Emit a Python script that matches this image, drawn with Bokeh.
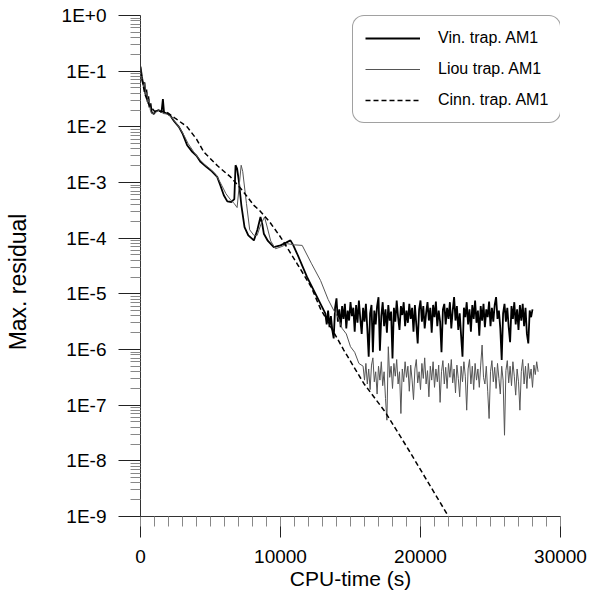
from bokeh.plotting import figure
from bokeh.models import Range1d, FixedTicker, CustomJSTickFormatter, Legend
from bokeh.embed import file_html
from bokeh.resources import INLINE

# ---------------- data ----------------
# Vin. trap. AM1 (thick black) - convergence part
vin_x = [0, 100, 200, 280, 350, 420, 500, 560, 640, 720, 800, 950, 1100, 1300, 1500, 1600,
         1680, 1900, 2140, 2400, 2740, 3000, 3330, 3700, 4000, 4290, 4700, 5100, 5480, 5700,
         5950, 6200, 6500, 6700, 6790, 6900, 7020, 7200, 7430, 7700, 8100, 8350, 8570, 8700,
         8810, 9100, 9520, 10000, 10400, 10710, 10900, 11190, 11900, 12500, 13100]
vin_log = [-0.92, -1.10, -1.25, -1.20, -1.42, -1.33, -1.55, -1.45, -1.65, -1.58, -1.74, -1.77,
           -1.72, -1.70, -1.74, -1.50, -1.74, -1.76, -1.80, -1.90, -2.00, -2.12, -2.33, -2.45,
           -2.52, -2.63, -2.72, -2.80, -2.90, -3.05, -3.23, -3.34, -3.35, -3.30, -2.69, -2.75,
           -2.96, -3.40, -3.80, -3.95, -4.04, -3.85, -3.62, -3.75, -3.92, -4.05, -4.16, -4.13,
           -4.08, -4.04, -4.12, -4.28, -4.70, -5.00, -5.30]
# Vin. plateau (noise), sampled every 100 s from 13200 s
vin_noise_start, vin_noise_step = 13200, 100
vin_noise_log = [
    -5.35, -5.55, -5.30, -5.60, -5.40, -5.65, -5.80, -5.25, -5.08, -5.50,
    -5.28, -5.60, -5.22, -5.45, -5.18, -5.62, -5.30, -5.48, -5.15, -5.40,
    -5.25, -5.68, -5.20, -5.52, -5.12, -5.45, -5.72, -5.25, -5.50, -5.18,
    -5.62, -6.13, -5.35, -5.20, -6.05, -5.30, -5.55, -5.22, -5.06, -6.02,
    -5.40, -5.15, -5.58, -5.28, -5.70, -5.20, -5.48, -5.32, -6.16, -5.25,
    -5.50, -5.12, -5.42, -5.65, -5.22, -5.38, -5.15, -5.58, -5.30, -5.52,
    -5.18, -5.45, -5.25, -5.68, -5.20, -5.55, -5.89, -5.28, -5.12, -5.50,
    -5.22, -5.62, -5.35, -5.15, -5.48, -5.25, -5.70, -5.20, -5.42, -5.14,
    -5.58, -5.30, -5.50, -6.05, -5.28, -5.18, -5.55, -5.25, -5.45, -5.15,
    -5.62, -5.30, -5.06, -5.48, -5.22, -5.65, -5.35, -5.75, -6.13, -5.25,
    -5.42, -5.15, -5.55, -5.28, -5.68, -5.20, -5.45, -5.12, -5.52, -5.30,
    -5.75, -5.22, -5.48, -5.18, -5.60, -5.28, -5.42, -5.14, -5.58, -5.25,
    -5.50, -5.20, -5.06, -5.45, -5.30, -5.62, -6.19, -5.35, -5.18, -5.50,
    -5.25, -5.60, -5.87, -5.22, -5.45, -5.15, -5.55, -5.28, -5.65, -5.20,
    -5.48, -5.18, -5.58, -5.25, -5.72, -5.89, -5.30, -5.42, -5.28]

# Liou trap. AM1 (thin grey)
liou_x = [0, 120, 220, 300, 380, 460, 540, 620, 700, 800, 1000, 1200, 1400, 1600, 1900, 2200,
          2500, 2800, 3100, 3400, 3800, 4200, 4600, 5000, 5400, 5800, 6100, 6400, 6700, 6900,
          7190, 7300, 7570, 7800, 8100, 8330, 8600, 8860, 9050, 9300, 9640, 10100, 10500,
          11000, 11550, 12200, 12860, 13400, 13810, 14100, 14400, 14700, 15000, 15300, 15600]
liou_log = [-0.95, -1.15, -1.30, -1.22, -1.45, -1.38, -1.58, -1.50, -1.70, -1.76, -1.75, -1.72,
            -1.70, -1.76, -1.77, -1.82, -1.92, -2.02, -2.15, -2.30, -2.45, -2.58, -2.68, -2.76,
            -2.86, -3.05, -3.20, -3.30, -3.38, -3.45, -2.69, -2.80, -3.38, -3.85, -3.95, -3.95,
            -3.75, -3.62, -3.80, -4.05, -4.19, -4.15, -4.10, -4.12, -4.13, -4.45, -4.76, -5.10,
            -5.30, -5.42, -5.62, -5.72, -5.95, -6.05, -6.25]
# Liou plateau (noise), sampled every 100 s from 15900 s
liou_noise_start, liou_noise_step = 15900, 100
liou_noise_log = [
    -6.30, -6.55, -6.25, -6.62, -6.35, -6.72, -6.28, -6.15, -6.58, -6.40,
    -6.80, -6.30, -6.55, -6.22, -6.65, -6.40, -6.88, -7.27, -5.95, -6.50,
    -6.30, -6.70, -6.25, -6.48, -6.18, -6.62, -6.40, -7.15, -6.35, -6.58,
    -6.22, -6.50, -6.30, -6.75, -6.28, -6.55, -6.90, -6.35, -6.18, -6.60,
    -6.40, -6.72, -6.25, -6.52, -6.15, -6.62, -6.38, -6.85, -6.30, -6.55,
    -6.22, -6.68, -6.35, -6.58, -6.28, -6.95, -6.40, -6.20, -6.62, -6.32,
    -6.70, -6.25, -6.50, -6.18, -6.60, -6.35, -6.78, -6.28, -6.52, -6.85,
    -6.30, -6.58, -6.22, -6.48, -7.09, -6.35, -6.18, -6.62, -6.30, -6.72,
    -6.25, -6.55, -6.35, -6.68, -6.28, -5.92, -6.50, -6.62, -6.30, -6.75,
    -7.24, -6.40, -6.20, -6.58, -6.32, -6.70, -6.25, -6.52, -6.80, -6.30,
    -6.55, -7.54, -6.38, -6.20, -6.60, -6.30, -6.65, -6.22, -6.48, -6.82,
    -6.35, -6.58, -7.09, -6.40, -6.18, -6.62, -6.30, -6.70, -6.25, -6.52,
    -6.35, -6.68, -6.28, -6.45, -6.22, -6.40]

# Cinn. trap. AM1 (dashed)
cinn_x = [0, 300, 600, 1000, 1500, 1900, 2500, 3330, 4000, 4520, 5500, 6430, 7300, 8100, 8500,
          9200, 10000, 10600, 11190, 12200, 12860, 14520, 15950, 17500, 19170, 22000]
cinn_log = [-1.00, -1.40, -1.60, -1.72, -1.72, -1.74, -1.85, -2.00, -2.22, -2.45, -2.70, -2.90,
            -3.15, -3.41, -3.50, -3.70, -3.98, -4.22, -4.46, -4.88, -5.27, -6.01, -6.61, -7.13,
            -7.81, -9.00]

x_major = [0, 10000, 20000, 30000]
x_minor = list(range(0, 30001, 1000))
y_decades = list(range(-9, 1))
series_names = ["Vin. trap. AM1", "Liou trap. AM1", "Cinn. trap. AM1"]
x_title = "CPU-time (s)"
y_title = "Max. residual"

# ---------------- assemble series ----------------
vin_all_x = vin_x + [vin_noise_start + vin_noise_step * i for i in range(len(vin_noise_log))]
vin_all_y = [10 ** v for v in vin_log + vin_noise_log]
liou_all_x = liou_x + [liou_noise_start + liou_noise_step * i for i in range(len(liou_noise_log))]
liou_all_y = [10 ** v for v in liou_log + liou_noise_log]
cinn_y = [10 ** v for v in cinn_log]

FONT = "Liberation Sans"
FRAME_H = 501

p = figure(width=591, height=595, y_axis_type="log", output_backend="svg",
           toolbar_location=None, x_range=Range1d(0, 30000), y_range=Range1d(1e-9, 1),
           min_border_left=140, min_border_right=31, min_border_top=15, min_border_bottom=79)
p.outline_line_color = None
p.xgrid.visible = False
p.ygrid.visible = False
p.background_fill_color = "white"
p.border_fill_color = "white"

r1 = p.line(vin_all_x, vin_all_y, line_color="black", line_width=1.8)
r2 = p.line(liou_all_x, liou_all_y, line_color="#555555", line_width=1.0)
r3 = p.line(cinn_x, cinn_y, line_color="black", line_width=1.5, line_dash="5 3")

# axes
ymaj = [10.0 ** k for k in y_decades]
ymin = [m * 10.0 ** k for k in y_decades[:-1] for m in range(2, 10)]
p.yaxis.ticker = FixedTicker(ticks=ymaj, minor_ticks=ymin)
p.yaxis.formatter = CustomJSTickFormatter(code="""
    const e = Math.round(Math.log10(tick));
    return '1E' + (e >= 0 ? '+' : '') + e;
""")
p.xaxis.ticker = FixedTicker(ticks=x_major, minor_ticks=x_minor)

for ax in (p.xaxis[0], p.yaxis[0]):
    ax.axis_line_color = "#333333"
    ax.major_tick_line_color = "#222222"
    ax.minor_tick_line_color = "#888888"
    ax.major_tick_in = 0
    ax.minor_tick_in = 0
    ax.minor_tick_out = 10
    ax.major_label_text_font = FONT
    ax.major_label_text_font_size = "19px"
    ax.major_label_text_color = "black"
    ax.axis_label_text_font = FONT
    ax.axis_label_text_font_style = "normal"
    ax.axis_label_text_color = "black"

p.yaxis.axis_label_text_font_size = "23px"
p.yaxis.major_tick_out = 22
p.yaxis.major_label_standoff = 12
# trailing no-break spaces shift the rotated title's visible part downwards (as in the source)
p.yaxis.axis_label = y_title + "\u00a0" * 5
p.yaxis.axis_label_standoff = 28
p.xaxis.axis_label_text_font_size = "21px"
p.xaxis.major_tick_out = 21
p.xaxis.major_label_standoff = 12
p.xaxis.axis_label = x_title
p.xaxis.axis_label_standoff = 1

legend = Legend(items=[(series_names[0], [r1]), (series_names[1], [r2]),
                       (series_names[2], [r3])],
                location=(212, FRAME_H - 2 - 106))
legend.label_text_font = FONT
legend.label_text_font_size = "16px"
legend.label_text_color = "black"
legend.glyph_width = 55
legend.glyph_height = 20
legend.label_height = 20
legend.label_width = 110
legend.label_standoff = 18
legend.spacing = 11
legend.padding = 12
legend.margin = 0
legend.border_line_color = "#444444"
legend.border_line_width = 1
legend.background_fill_color = "white"
legend.background_fill_alpha = 1.0
if "border_radius" in Legend.properties():
    legend.border_radius = 12
p.add_layout(legend)

open("out.html", "w").write(file_html(p, INLINE))
